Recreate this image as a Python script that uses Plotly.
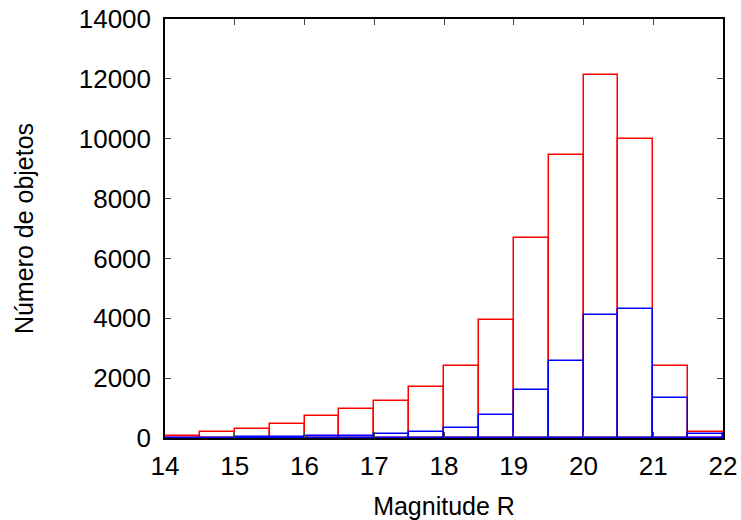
import plotly.graph_objects as go

bin_left = [14.0, 14.5, 15.0, 15.5, 16.0, 16.5, 17.0, 17.5, 18.0, 18.5, 19.0, 19.5, 20.0, 20.5, 21.0, 21.5]
red_counts = [60, 190, 290, 480, 750, 980, 1250, 1700, 2400, 3940, 6680, 9450, 12120, 9990, 2400, 215]
blue_counts = [10, 15, 20, 45, 55, 65, 120, 200, 350, 780, 1600, 2570, 4100, 4320, 1340, 140]
bin_width = 0.5
x_ticks = [14, 15, 16, 17, 18, 19, 20, 21, 22]
y_ticks = [0, 2000, 4000, 6000, 8000, 10000, 12000, 14000]

centers = [b + bin_width / 2 for b in bin_left]

fig = go.Figure()
fig.add_trace(go.Bar(
    x=centers, y=red_counts, width=bin_width,
    marker=dict(color="rgba(0,0,0,0)", line=dict(color="#ff0000", width=1.5)),
    showlegend=False,
))
fig.add_trace(go.Bar(
    x=centers, y=blue_counts, width=bin_width,
    marker=dict(color="rgba(0,0,0,0)", line=dict(color="#0000ff", width=1.5)),
    showlegend=False,
))

fam = "Liberation Sans, Arial, Helvetica, sans-serif"
tick_font = dict(family=fam, size=26, color="black")
title_font = dict(family=fam, size=25, color="black")

fig.update_layout(
    width=741, height=520,
    margin=dict(l=165, r=18, t=19, b=82, autoexpand=False),
    barmode="overlay", bargap=0,
    plot_bgcolor="white", paper_bgcolor="white",
    font=tick_font,
)
fig.update_xaxes(
    range=[14, 22], tickvals=x_ticks, ticktext=[str(v) for v in x_ticks],
    ticks="inside", ticklen=6, tickwidth=1, tickcolor="#444",
    showline=True, linecolor="black", linewidth=1.5, mirror="ticks",
    showgrid=False, zeroline=False, automargin=False,
    ticklabelstandoff=4,
    title=dict(text="Magnitude R", font=title_font, standoff=24),
    tickfont=tick_font,
)
fig.update_yaxes(
    range=[0, 14000], tickvals=y_ticks, ticktext=[str(v) for v in y_ticks],
    ticks="inside", ticklen=6, tickwidth=1, tickcolor="#444",
    showline=True, linecolor="black", linewidth=1.5, mirror="ticks",
    showgrid=False, zeroline=False, automargin=False,
    ticklabelstandoff=7,
    title=dict(text="Número de objetos", font=title_font, standoff=38),
    tickfont=tick_font,
)

fig.write_html("out.html")
